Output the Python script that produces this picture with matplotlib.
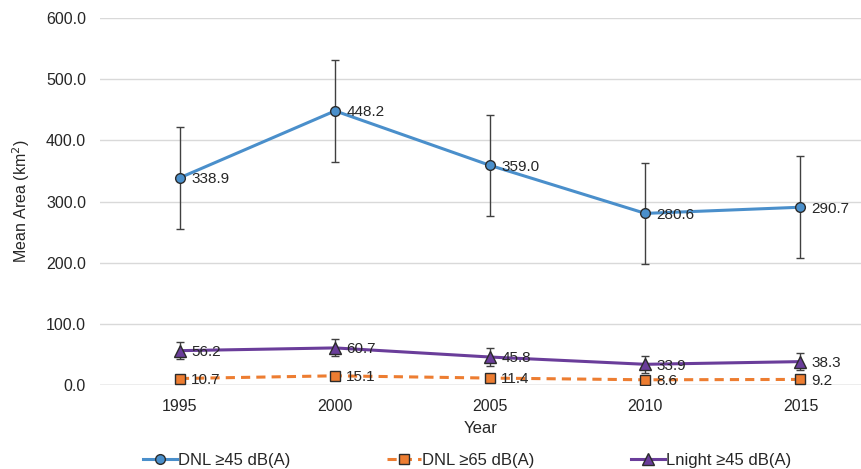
import matplotlib.pyplot as plt
from matplotlib.lines import Line2D

plt.rcParams['font.family'] = ['Liberation Sans', 'DejaVu Sans']

years = ["1995", "2000", "2005", "2010", "2015"]
dnl45 = [338.9, 448.2, 359.0, 280.6, 290.7]
dnl65 = [10.7, 15.1, 11.4, 8.6, 9.2]
lnight45 = [56.2, 60.7, 45.8, 33.9, 38.3]
dnl45_err = [83, 83, 83, 83, 83]
lnight45_err = [14, 14, 14, 14, 14]

BLUE = "#4a8fcb"
ORANGE = "#ed7d31"
PURPLE = "#6a3d9a"
EDGE = "#2b2b2b"
TXT = "#262626"

fig = plt.figure(figsize=(8.61, 4.69), dpi=100)
ax = fig.add_axes([0.116, 0.179, 0.884, 0.7826])
x = list(range(len(years)))

ax.errorbar(x, dnl45, yerr=dnl45_err, fmt='none', ecolor="#404040",
            elinewidth=1, capsize=3, capthick=1, zorder=2)
ax.errorbar(x, lnight45, yerr=lnight45_err, fmt='none', ecolor="#404040",
            elinewidth=1, capsize=3, capthick=1, zorder=2)

ax.plot(x, dnl45, color=BLUE, lw=2.2, marker='o', ms=7,
        mfc=BLUE, mec=EDGE, mew=1, zorder=3)
ax.plot(x, dnl65, color=ORANGE, lw=2.2, ls=(0, (3, 2)), marker='s', ms=7,
        mfc=ORANGE, mec=EDGE, mew=1, zorder=3)
ax.plot(x, lnight45, color=PURPLE, lw=2.2, marker='^', ms=8,
        mfc=PURPLE, mec=EDGE, mew=1, zorder=3)

for series in (dnl45, dnl65, lnight45):
    for xi, v in zip(x, series):
        ax.annotate(f"{v:.1f}", (xi, v), xytext=(8, -1), textcoords='offset points',
                    ha='left', va='center', fontsize=11, color=TXT, zorder=4)

ax.set_xlim(-0.516, 4.39)
ax.set_ylim(0, 600)
ax.set_yticks([0, 100, 200, 300, 400, 500, 600])
ax.set_yticklabels([f"{v:.1f}" for v in [0, 100, 200, 300, 400, 500, 600]])
ax.set_xticks(x)
ax.set_xticklabels(years)
ax.tick_params(axis='both', length=0, labelsize=11.5, colors=TXT)
ax.tick_params(axis='x', pad=10)
ax.tick_params(axis='y', pad=10)
ax.grid(axis='y', color="#d9d9d9", lw=1)
ax.set_axisbelow(True)
for s in ax.spines.values():
    s.set_visible(False)
ax.axhline(0, color="#c8c8c8", lw=1, zorder=1)

ax.set_xlabel("Year", fontsize=12, color=TXT, labelpad=5)
ax.set_ylabel("Mean Area (km$^2$)", fontsize=11.5, color=TXT, labelpad=10)

handles = [
    Line2D([], [], color=BLUE, lw=2.2, marker='o', ms=7, mfc=BLUE, mec=EDGE),
    Line2D([], [], color=ORANGE, lw=2.2, ls=(0, (3, 2)), marker='s', ms=7, mfc=ORANGE, mec=EDGE),
    Line2D([], [], color=PURPLE, lw=2.2, marker='^', ms=8, mfc=PURPLE, mec=EDGE),
]
labels = ["DNL ≥45 dB(A)", "DNL ≥65 dB(A)", "Lnight ≥45 dB(A)"]
fig.legend(handles, labels, loc='lower center', bbox_to_anchor=(0.543, -0.03),
           ncol=3, frameon=False, fontsize=12, handlelength=2.0,
           handletextpad=0.1, columnspacing=5.8, labelcolor=TXT)

fig.savefig("out.png", dpi=100)
